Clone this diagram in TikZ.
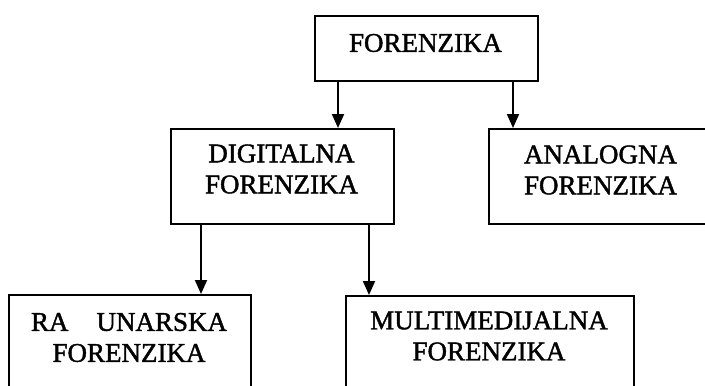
\documentclass[tikz,border=0pt]{standalone}
\usepackage{fontspec}
\setmainfont{Liberation Serif}
\newfontfamily\heavyserif{Liberation Serif}[FakeBold=1.5]
\usetikzlibrary{arrows.meta}
\tikzset{
  box/.style={draw=black, line width=2pt, rectangle, inner sep=0pt, anchor=north west},
  txt/.style={align=center, inner sep=0pt, font=\heavyserif\fontsize{27}{31}\selectfont},
  arr/.style={line width=2pt, -{Triangle[width=12pt,length=14pt]}}
}
\begin{document}
\begin{tikzpicture}[x=1pt,y=-1pt]
\useasboundingbox (0,0) rectangle (705,386);
\clip (0,0) rectangle (705,386);
% boxes
\node[box, minimum width=223pt, minimum height=65pt] (top) at (314,15) {};
\node[box, minimum width=223pt, minimum height=95pt] (dig) at (170,128) {};
\node[box, minimum width=225pt, minimum height=95pt] (ana) at (488,128) {};
\node[box, minimum width=242pt, minimum height=100pt] (rac) at (8,294) {};
\node[box, minimum width=288pt, minimum height=100pt] (mul) at (345,295) {};
% texts
\node[txt] (ttop) at (425.5,43) {FORENZIKA};
\node[txt] (tdig) at (281.5,169) {DIGITALNA\\FORENZIKA};
\node[txt] (tana) at (600.5,170) {ANALOGNA\\FORENZIKA};
\node[txt] (trac) at (129,337.5) {RA\hspace{28pt}UNARSKA\\FORENZIKA};
\node[txt] (tmul) at (489,336) {MULTIMEDIJALNA\\FORENZIKA};
% connectors
\draw[arr] (338,0 |- top.south) -- (338,0 |- dig.north);
\draw[arr] (513,0 |- top.south) -- (513,0 |- ana.north);
\draw[arr] (201,0 |- dig.south) -- (201,0 |- rac.north);
\draw[arr] (369,0 |- dig.south) -- (369,0 |- mul.north);
\end{tikzpicture}
\end{document}
